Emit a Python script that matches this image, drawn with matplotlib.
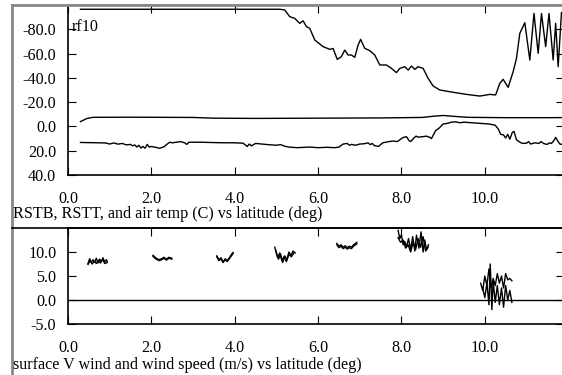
import matplotlib
matplotlib.use("Agg")
import matplotlib.pyplot as plt
import numpy as np

nan = np.nan

# top panel: RSTB, air temp, RSTT (deg C) vs latitude
rstb_lat = [0.3, 5.08, 5.2, 5.32, 5.44, 5.56, 5.64, 5.72, 5.8, 5.92, 6.12, 6.28, 6.36,
            6.46, 6.56, 6.64, 6.72, 6.8, 6.88, 6.96, 7.02, 7.12, 7.24, 7.36, 7.48,
            7.64, 7.76, 7.88, 7.96, 8.08, 8.16, 8.24, 8.32, 8.4, 8.52, 8.64, 8.76,
            8.92, 9.24, 9.56, 9.88, 10.12, 10.26, 10.36, 10.44, 10.56, 10.68, 10.76,
            10.84, 10.96, 11.08, 11.18, 11.28, 11.36, 11.46, 11.54, 11.64, 11.7,
            11.76, 11.84, 11.9]
rstb = [-96.5, -96.5, -95.9, -90.4, -89.0, -84.9, -87.0, -82.2, -80.8, -71.2, -65.7,
        -63.5, -64.2, -55.2, -57.5, -62.9, -58.8, -58.8, -56.9, -67.0, -71.7, -64.3,
        -62.4, -58.8, -50.6, -50.6, -47.8, -44.3, -47.8, -49.2, -46.4, -49.7, -47.0,
        -49.2, -47.8, -39.6, -33.3, -30.0, -28.1, -26.4, -25.0, -26.4, -25.9, -35.5,
        -38.8, -32.2, -45.1, -56.1, -76.7, -85.4, -54.7, -93.1, -60.2, -93.0, -65.7,
        -93.0, -54.7, -84.9, -49.2, -94.0, -90.0]

air_lat = [0.3, 0.45, 0.6, 1.5, 3.0, 3.5, 4.5, 6.0, 7.5, 8.5, 8.8, 9.0, 9.3, 9.6,
           10.5, 11.5, 11.9]
air_temp = [-4.0, -6.5, -7.5, -7.6, -7.4, -6.8, -6.6, -6.8, -7.0, -7.4, -8.5, -9.0,
            -8.2, -7.5, -7.2, -7.2, -7.3]

rstt_lat = [0.3, 0.6, 0.9, 1.0, 1.1, 1.2, 1.3, 1.4, 1.5, 1.55, 1.6, 1.65, 1.7, 1.75,
            1.8, 1.85, 1.9, 1.95, 2.0, 2.1, 2.2, 2.3, 2.4, 2.45, 2.5, 2.7, 2.8, 2.85,
            2.9, 3.2, 3.6, 4.0, 4.2, 4.3, 4.35, 4.4, 4.5, 4.8, 5.0, 5.1, 5.2, 5.3,
            5.5, 5.8, 6.0, 6.2, 6.4, 6.5, 6.6, 6.7, 6.75, 6.8, 6.9, 7.0, 7.1, 7.2,
            7.25, 7.3, 7.35, 7.45, 7.55, 7.7, 7.8, 7.9, 8.0, 8.05, 8.12, 8.18, 8.22,
            8.3, 8.35, 8.4, 8.5, 8.6, 8.68, 8.72, 8.78, 8.82, 8.9, 9.0, 9.1, 9.2,
            9.3, 9.4, 9.5, 9.7, 9.9, 10.1, 10.25, 10.33, 10.38, 10.45, 10.5, 10.55,
            10.6, 10.66, 10.7, 10.76, 10.82, 10.9, 11.0, 11.05, 11.1, 11.2, 11.3,
            11.35, 11.42, 11.5, 11.55, 11.6, 11.66, 11.7, 11.75, 11.8, 11.9]
rstt = [13.2, 13.4, 13.6, 14.5, 13.6, 14.6, 14.0, 15.2, 14.8, 16.0, 15.2, 17.0, 15.5,
        17.8, 16.5, 18.0, 14.8, 17.0, 16.5, 17.2, 18.0, 16.8, 14.0, 13.0, 13.5, 12.5,
        13.5, 14.8, 13.0, 13.0, 13.4, 13.5, 13.8, 16.5, 14.5, 16.0, 14.0, 15.0, 15.5,
        15.0, 16.3, 17.0, 17.5, 17.0, 17.5, 17.2, 17.5, 17.0, 14.5, 14.0, 15.5, 14.8,
        15.5, 14.5, 14.3, 13.5, 15.0, 14.0, 15.8, 16.5, 13.5, 12.5, 12.0, 12.5, 10.0,
        9.0, 8.5, 11.5, 12.5, 9.5, 8.0, 8.8, 8.5, 8.0, 9.0, 10.0, 6.0, 3.5, 1.5, -2.0,
        -2.5, -3.5, -3.8, -3.0, -3.5, -3.0, -2.5, -2.0, -1.0, 2.5, 6.5, 7.0, 9.5, 6.5,
        10.5, 5.0, 4.0, 11.0, 12.5, 14.0, 13.8, 12.5, 14.5, 13.5, 14.0, 12.5, 14.2,
        14.8, 13.5, 14.0, 11.5, 9.0, 12.0, 14.5, 15.0]

# bottom panel: wind speed and surface V wind (m/s), nan = gap between legs
spd_lat = [0.48, 0.52, 0.56, 0.6, 0.64, 0.68, 0.72, 0.76, 0.8, 0.84, 0.88, 0.92, 0.94, nan,
           2.04, 2.1, 2.18, 2.25, 2.3, 2.36, 2.42, 2.49, nan,
           3.57, 3.62, 3.67, 3.72, 3.77, 3.82, 3.88, 3.93, 3.96, nan,
           4.96, 5.0, 5.05, 5.1, 5.15, 5.2, 5.25, 5.3, 5.35, 5.4, 5.45, nan,
           6.45, 6.5, 6.55, 6.6, 6.65, 6.7, 6.75, 6.8, 6.85, 6.9, 6.93, nan,
           7.92, 7.96, 8.0, 8.04, 8.08, 8.12, 8.17, 8.22, 8.27, 8.32, 8.36, 8.42, 8.47,
           8.52, 8.56, 8.6, 8.65, nan,
           9.9, 9.95, 10.0, 10.05, 10.1, 10.15, 10.2, 10.25, 10.3, 10.35, 10.4, 10.45,
           10.5, 10.55, 10.6, 10.65]
spd = [7.6, 8.6, 7.8, 8.4, 7.9, 8.7, 7.7, 8.5, 8.0, 8.8, 7.9, 8.4, 8.0, nan,
       9.3, 8.8, 8.4, 8.6, 8.9, 8.5, 8.9, 8.7, nan,
       9.2, 8.4, 8.8, 7.9, 8.6, 8.2, 8.9, 9.6, 9.9, nan,
       11.0, 9.8, 8.5, 9.6, 7.8, 9.2, 8.4, 10.0, 9.3, 10.2, 9.8, nan,
       11.8, 11.2, 11.5, 11.0, 11.3, 10.9, 11.2, 11.0, 11.5, 11.8, 12.0, nan,
       14.5, 12.8, 13.6, 11.5, 12.2, 11.0, 12.8, 10.4, 13.2, 10.2, 13.5, 10.8, 14.2,
       10.0, 12.5, 10.5, 11.5, nan,
       3.5, 2.0, 5.0, 3.0, 6.5, 2.5, 4.5, 3.0, 5.5, 3.5, 5.0, 2.5, 5.5, 4.2, 4.5, 4.0]

vwind_lat = [0.48, 0.53, 0.58, 0.63, 0.68, 0.73, 0.78, 0.83, 0.88, 0.94, nan,
             2.04, 2.1, 2.18, 2.25, 2.3, 2.36, 2.42, 2.49, nan,
             3.57, 3.62, 3.67, 3.72, 3.77, 3.82, 3.88, 3.93, 3.96, nan,
             4.98, 5.03, 5.08, 5.13, 5.18, 5.24, 5.3, 5.36, 5.42, nan,
             6.45, 6.5, 6.55, 6.6, 6.65, 6.7, 6.75, 6.8, 6.85, 6.9, 6.93, nan,
             7.92, 7.98, 8.04, 8.1, 8.16, 8.22, 8.28, 8.34, 8.4, 8.46, 8.52, 8.58, 8.64, nan,
             9.95, 10.0, 10.05, 10.1, 10.13, 10.17, 10.2, 10.25, 10.3, 10.35, 10.4,
             10.45, 10.5, 10.55, 10.6, 10.65]
vwind = [7.4, 8.2, 7.5, 8.1, 7.6, 8.3, 7.7, 8.5, 7.6, 7.8, nan,
         9.1, 8.6, 8.2, 8.4, 8.7, 8.3, 8.7, 8.5, nan,
         9.0, 8.2, 8.6, 7.8, 8.4, 8.0, 8.7, 9.3, 9.7, nan,
         10.4, 8.8, 9.8, 8.2, 9.0, 8.0, 9.5, 9.0, 9.8, nan,
         11.5, 10.9, 11.2, 10.7, 11.0, 10.6, 10.9, 10.7, 11.2, 11.5, 11.7, nan,
         13.0, 12.0, 12.5, 10.8, 11.5, 10.0, 12.0, 10.5, 12.8, 11.0, 13.2, 10.2, 11.0, nan,
         2.5, 0.5, 3.5, -1.0, 7.5, -2.0, 4.0, -0.5, 3.0, -1.0, 2.5, -1.5, 3.0, 0.0,
         2.0, -0.5]

top_yticks = [-80, -60, -40, -20, 0, 20, 40]
bot_yticks = [-5, 0, 5, 10]
xticks = [0, 2, 4, 6, 8, 10]

FS = 11.6
plt.rcParams["font.family"] = ["Liberation Serif", "DejaVu Serif"]
plt.rcParams["font.size"] = FS

W, H = 562, 375
fig = plt.figure(figsize=(W / 100, H / 100), dpi=100)


def px(x0, y0, x1, y1):
    # rectangle given in pixels from top-left -> figure fraction
    return [x0 / W, 1 - y1 / H, (x1 - x0) / W, (y1 - y0) / H]


def style(ax, yticks):
    ax.set_xlim(0, 11.9)
    ax.set_xticks(xticks)
    ax.set_xticklabels(["%.1f" % t for t in xticks])
    ax.set_yticks(yticks)
    ax.set_yticklabels(["%.1f" % t for t in yticks])
    ax.tick_params(direction="in", length=6, width=0.8, top=True, right=True,
                   labelsize=FS, colors="black")
    ax.tick_params(axis="x", pad=11.5)
    ax.tick_params(axis="y", pad=8.5)
    for s in ax.spines.values():
        s.set_linewidth(1.2)


ax1 = fig.add_axes(px(68, 5, 564, 175))
ax1.plot(rstb_lat, rstb, color="black", lw=1.0)
ax1.plot(air_lat, air_temp, color="black", lw=1.0)
ax1.plot(rstt_lat, rstt, color="black", lw=1.0)
ax1.set_ylim(40, -100)
style(ax1, top_yticks)
ax1.spines["top"].set_color("#888888")
ax1.text(0.008, 0.87, "rf10", transform=ax1.transAxes, ha="left", va="center",
         fontsize=FS)

ax2 = fig.add_axes(px(68, 228, 564, 324))
ax2.plot(spd_lat, spd, color="black", lw=1.0)
ax2.plot(vwind_lat, vwind, color="black", lw=1.0)
ax2.axhline(0, color="black", lw=1.0)
ax2.set_ylim(-5, 15)
style(ax2, bot_yticks)

# outer frame and panel divider
fig.add_artist(plt.Line2D([12 / W, 12 / W], [0, 1 - 5 / H], color="#888888",
                          lw=2.0, transform=fig.transFigure))
fig.add_artist(plt.Line2D([12 / W, 1], [1 - 5 / H, 1 - 5 / H], color="#888888",
                          lw=2.0, transform=fig.transFigure))
fig.add_artist(plt.Line2D([12 / W, 1], [1 - 228 / H, 1 - 228 / H], color="black",
                          lw=1.2, transform=fig.transFigure))

fig.text(13 / W, 1 - 214 / H, "RSTB, RSTT, and air temp (C) vs latitude (deg)",
         ha="left", va="center", fontsize=FS)
fig.text(13 / W, 1 - 365 / H, "surface V wind and wind speed (m/s) vs latitude (deg)",
         ha="left", va="center", fontsize=FS)

fig.savefig("out.png", dpi=100)
